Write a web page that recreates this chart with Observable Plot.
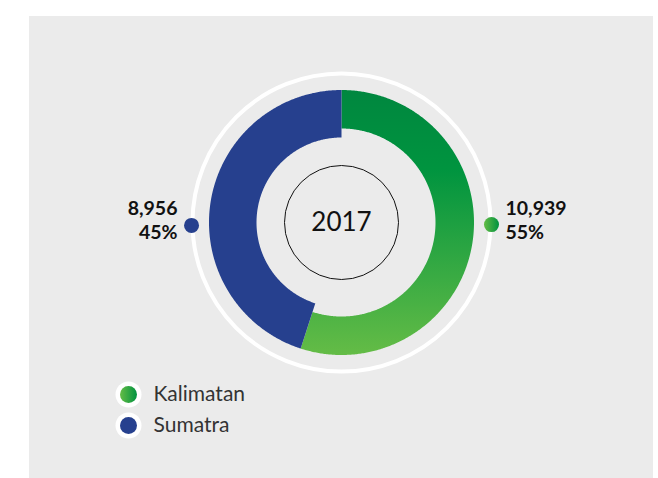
<!DOCTYPE html>
<html><head><meta charset="utf-8">
<script src="https://cdn.jsdelivr.net/npm/d3@7"></script>
<script src="https://cdn.jsdelivr.net/npm/@observablehq/plot@0.6"></script>
<style>
body{margin:0;background:#fff;}
#wrap{position:relative;width:658px;height:478px;overflow:hidden;}
#bg{position:absolute;left:29px;top:16px;width:624px;height:462px;background:#ebebeb;}
#chart{position:absolute;left:0;top:0;}
</style></head><body>
<div id="wrap"><div id="bg"></div><div id="chart"></div></div>
<script>
// ---- data ----
const regions = ["Kalimatan", "Sumatra"];
const values = [10939, 8956];
const year = "2017";

// ---- style / layout ----
const W = 658, H = 478, CX = 341, CY = 222;
const outerR = 132.5;
const innerR = {Kalimatan: 94, Sumatra: 85};
const ringFill = {Kalimatan: "url(#gradRing)", Sumatra: "#26408e"};
const dotFill = {Kalimatan: "url(#gradDot)", Sumatra: "#26408e"};
const labelAngle = {Kalimatan: 90.8, Sumatra: 268.9};
const labelSide = {Kalimatan: 1, Sumatra: -1};
const FONT = "Lato, 'Open Sans', sans-serif";

const total = d3.sum(values);
const rows = regions.map((name, i) => ({name, value: values[i], pct: values[i] / total}));
const pie = d3.pie().sort(null).value(d => d.value)(rows);

function polar(r, a) { return {x: r * Math.sin(a), y: r * Math.cos(a)}; }

const slicePts = {};
pie.forEach(p => {
  const name = p.data.name, pts = [];
  const n = Math.max(2, Math.ceil((p.endAngle - p.startAngle) / (Math.PI / 360)));
  for (let k = 0; k <= n; k++) pts.push(polar(outerR, p.startAngle + (p.endAngle - p.startAngle) * k / n));
  for (let k = n; k >= 0; k--) pts.push(polar(innerR[name], p.startAngle + (p.endAngle - p.startAngle) * k / n));
  slicePts[name] = pts;
});

const fmt = d3.format(",");
const pfmt = d3.format(".0%");
const labels = rows.map(d => {
  const a = labelAngle[d.name] * Math.PI / 180;
  const dot = polar(150, a);
  return {name: d.name, dx: dot.x, dy: dot.y,
          tx: labelSide[d.name] * 164, ty: 3,
          text: fmt(d.value) + "\n" + pfmt(d.pct)};
});

const marks = [
  Plot.dot([0], {x: 0, y: 0, r: 149, stroke: "white", strokeWidth: 4, fill: "none"})
];
regions.forEach(name => {
  marks.push(Plot.line(slicePts[name], {x: "x", y: "y", fill: ringFill[name], stroke: "none", curve: "linear-closed"}));
});
marks.push(Plot.dot([0], {x: 0, y: 0, r: 57, stroke: "#111", strokeWidth: 1, fill: "none"}));
marks.push(Plot.text([year], {x: 0, y: 0, text: d => d, fontSize: 26, fill: "#111", fontFamily: FONT}));
labels.forEach(l => {
  marks.push(Plot.dot([l], {x: "dx", y: "dy", r: 7.5, fill: dotFill[l.name]}));
  marks.push(Plot.text([l], {x: "tx", y: "ty", text: "text", textAnchor: labelSide[l.name] > 0 ? "start" : "end",
    lineAnchor: "middle", lineHeight: 1.25, fontSize: 19.5, fontWeight: "bold", fill: "#111", fontFamily: FONT}));
});
rows.forEach((d, i) => {
  const ly = -172 - i * 31;
  marks.push(Plot.dot([d], {x: -213, y: ly, r: 13, fill: "white"}));
  marks.push(Plot.dot([d], {x: -213, y: ly, r: 8.5, fill: d.name === "Kalimatan" ? "url(#gradLegend)" : dotFill[d.name]}));
  marks.push(Plot.text([d], {x: -188, y: ly, text: "name", textAnchor: "start", fontSize: 21, fill: "#333", fontFamily: FONT}));
});

const svg = Plot.plot({
  width: W, height: H,
  margin: 0,
  x: {domain: [-CX, W - CX], range: [0, W], axis: null},
  y: {domain: [CY - H, CY], range: [H, 0], axis: null},
  style: {background: "transparent", overflow: "visible", fontFamily: FONT},
  marks
});

const defs = d3.select(svg).insert("defs", ":first-child");
const g1 = defs.append("linearGradient").attr("id", "gradRing").attr("x1", 0).attr("y1", 0).attr("x2", 0).attr("y2", 1);
g1.append("stop").attr("offset", "0").attr("stop-color", "#00873f");
g1.append("stop").attr("offset", "0.3").attr("stop-color", "#00943f");
g1.append("stop").attr("offset", "1").attr("stop-color", "#64bc46");
const g2 = defs.append("linearGradient").attr("id", "gradDot").attr("x1", 0).attr("y1", 0).attr("x2", 1).attr("y2", 0);
g2.append("stop").attr("offset", "0").attr("stop-color", "#64bc46");
g2.append("stop").attr("offset", "1").attr("stop-color", "#00923f");
const g3 = defs.append("linearGradient").attr("id", "gradLegend").attr("x1", 0).attr("y1", 0).attr("x2", 1).attr("y2", 0);
g3.append("stop").attr("offset", "0").attr("stop-color", "#64bc46");
g3.append("stop").attr("offset", "1").attr("stop-color", "#00923f");

document.getElementById("chart").appendChild(svg);
</script>
</body></html>
